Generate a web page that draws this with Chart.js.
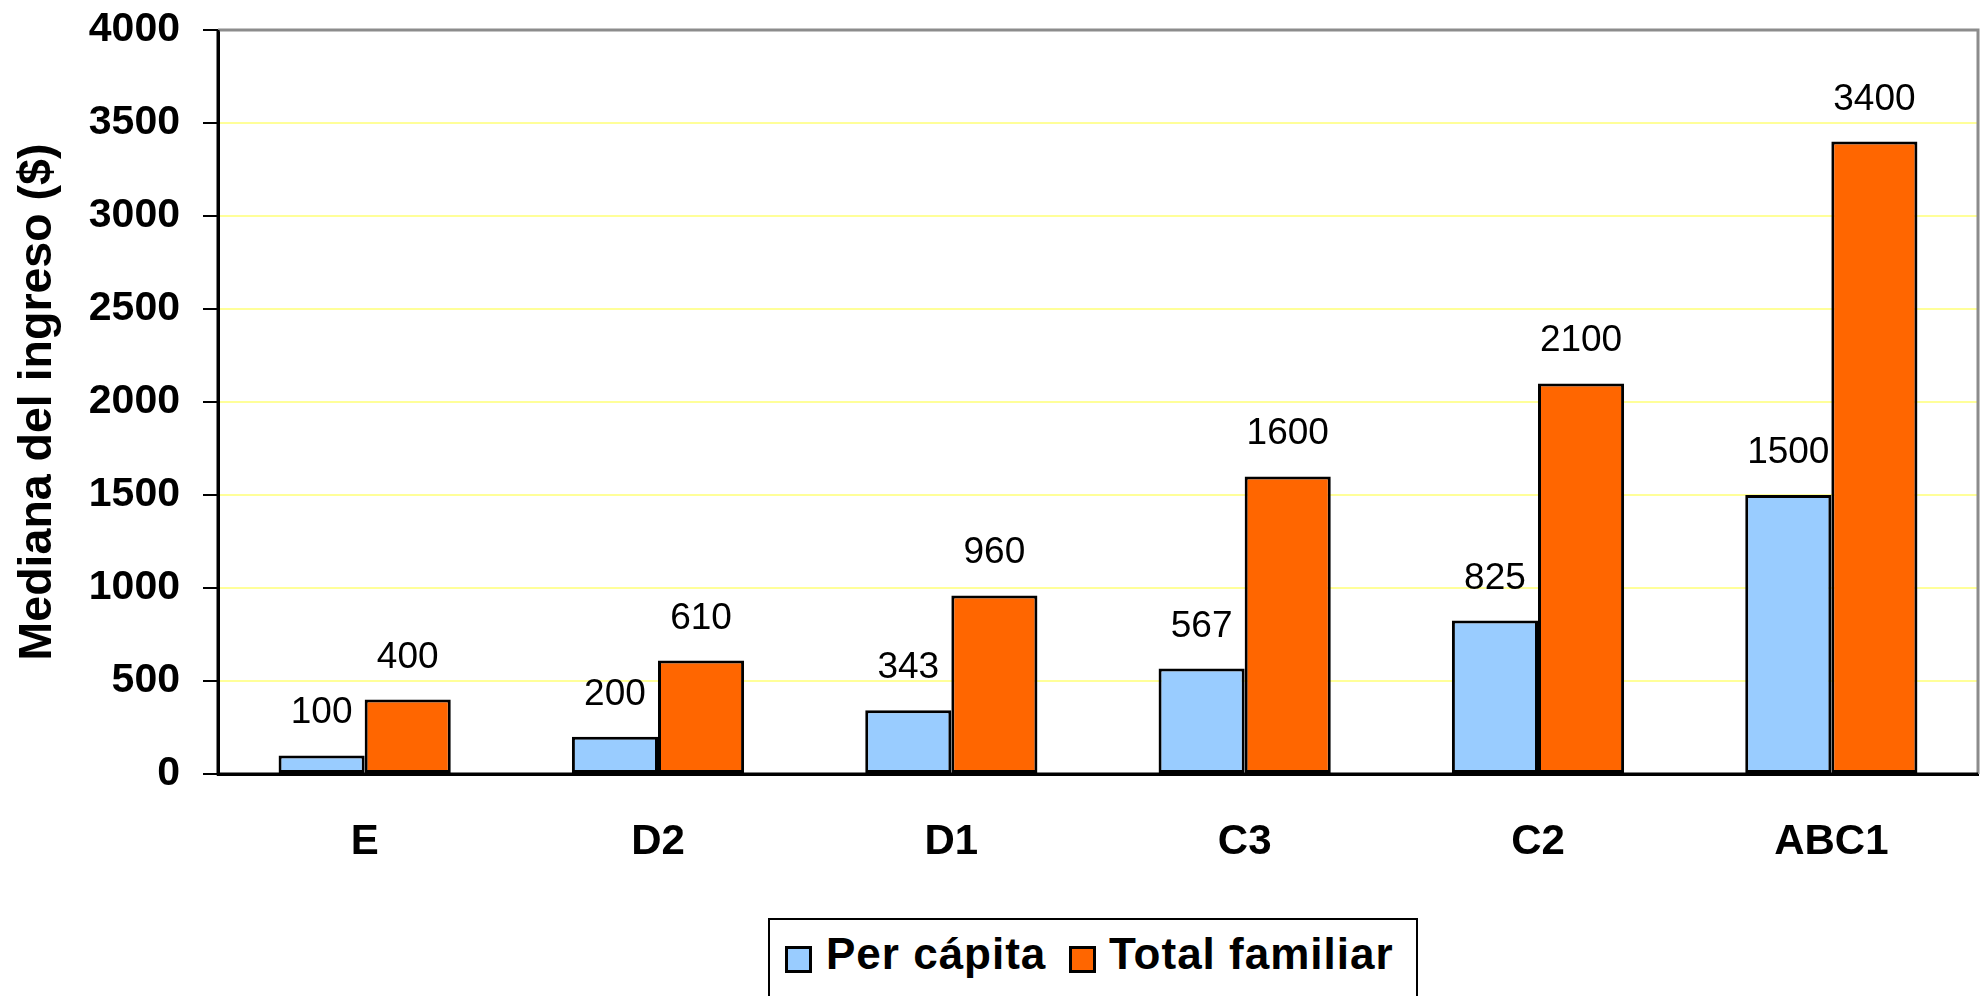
<!DOCTYPE html>
<html>
<head>
<meta charset="utf-8">
<script src="https://cdn.jsdelivr.net/npm/chart.js@4.4.1/dist/chart.umd.min.js"></script>
<style>
  html, body { margin: 0; padding: 0; background: #ffffff; overflow: hidden; }
  #wrap { position: relative; width: 1986px; height: 996px; }
  #c { position: absolute; left: 0; top: 0; }
  #legend { position: absolute; left: 768px; top: 918px; width: 650px; height: 120px;
            border: 2px solid #000; background: #fff; box-sizing: border-box;
            font-family: 'Liberation Sans', Arial, sans-serif; font-weight: bold; font-size: 44px;
            letter-spacing: 1px; color: #000; }
  .sw { position: absolute; top: 26px; width: 21px; height: 21px; border: 3px solid #000; }
  .lt { position: absolute; top: 8px; line-height: 52px; white-space: nowrap; }
</style>
</head>
<body>
<div id="wrap">
  <canvas id="c" width="1986" height="996"></canvas>
  <div id="legend"></div>
</div>
<script>
const categories = ['E', 'D2', 'D1', 'C3', 'C2', 'ABC1'];
const perCapita = [100, 200, 343, 567, 825, 1500];
const totalFamiliar = [400, 610, 960, 1600, 2100, 3400];
const seriesNames = ['Per cápita', 'Total familiar'];
const seriesColors = ['#99ccff', '#ff6600'];
const yTicks = [0, 500, 1000, 1500, 2000, 2500, 3000, 3500, 4000];
const yTitle = 'Mediana del ingreso ($)';

const FONT = "'Liberation Sans', Arial, sans-serif";

const frame = {
  id: 'frame',
  afterDatasetsDraw(chart) {
    const { ctx, chartArea: a } = chart;
    ctx.save();
    ctx.strokeStyle = '#8c8c8c';
    ctx.lineWidth = 3;
    ctx.beginPath();
    ctx.moveTo(a.left, a.top);
    ctx.lineTo(a.right, a.top);
    ctx.lineTo(a.right, a.bottom);
    ctx.stroke();
    ctx.strokeStyle = '#000';
    ctx.lineWidth = 3;
    ctx.beginPath();
    ctx.moveTo(a.left, a.top);
    ctx.lineTo(a.left, a.bottom);
    ctx.lineTo(a.right, a.bottom);
    ctx.stroke();
    ctx.fillStyle = '#000';
    ctx.font = '37px ' + FONT;
    ctx.textAlign = 'center';
    ctx.textBaseline = 'alphabetic';
    chart.data.datasets.forEach((ds, di) => {
      const meta = chart.getDatasetMeta(di);
      meta.data.forEach((el, i) => {
        ctx.fillText(String(ds.data[i]), el.x, el.y - 32);
      });
    });
    ctx.restore();
  }
};

new Chart(document.getElementById('c'), {
  type: 'bar',
  data: {
    labels: categories,
    datasets: [
      { label: seriesNames[0], data: perCapita, backgroundColor: seriesColors[0],
        borderColor: '#000', borderWidth: 3, borderSkipped: false,
        categoryPercentage: 0.587, barPercentage: 1.0 },
      { label: seriesNames[1], data: totalFamiliar, backgroundColor: seriesColors[1],
        borderColor: '#000', borderWidth: 3, borderSkipped: false,
        categoryPercentage: 0.587, barPercentage: 1.0 }
    ]
  },
  options: {
    responsive: false,
    animation: false,
    devicePixelRatio: 1,
    layout: { padding: { top: 30, right: 8, left: 0, bottom: 0 } },
    plugins: { legend: { display: false }, tooltip: { enabled: false } },
    scales: {
      x: {
        offset: true,
        grid: { display: false, drawTicks: false },
        border: { display: true, color: '#000', width: 3 },
        ticks: { color: '#000', padding: 43, font: { family: FONT, size: 42, weight: 'bold' } },
        afterFit(s) { s.height = 222; s.paddingLeft = 0; s.paddingRight = 0; }
      },
      y: {
        min: 0, max: 4000,
        afterBuildTicks(s) { s.ticks = yTicks.map(v => ({ value: v })); },
        grid: {
          color: (c) => (c.tick && (c.tick.value === 0 || c.tick.value === 4000)) ? 'rgba(0,0,0,0)' : '#ffff99',
          lineWidth: 2, tickColor: '#000', tickLength: 15, tickWidth: 2, drawTicks: true
        },
        border: { display: true, color: '#000', width: 3 },
        ticks: { color: '#000', padding: 23, font: { family: FONT, size: 41, weight: 'bold' },
                 callback: (v) => String(v) },
        title: { display: true, text: yTitle, color: '#000', padding: { top: 10, bottom: 0 },
                 font: { family: FONT, size: 46.5, weight: 'bold' } },
        afterFit(s) { s.width = 218; s.paddingTop = 0; s.paddingBottom = 0; }
      }
    }
  },
  plugins: [frame]
});

const lg = document.getElementById('legend');
const swX = [15, 299];
const txX = [56, 339];
seriesNames.forEach((n, i) => {
  const sw = document.createElement('div');
  sw.className = 'sw';
  sw.style.left = swX[i] + 'px';
  sw.style.background = seriesColors[i];
  lg.appendChild(sw);
  const t = document.createElement('div');
  t.className = 'lt';
  t.style.left = txX[i] + 'px';
  t.textContent = n;
  lg.appendChild(t);
});
</script>
</body>
</html>
